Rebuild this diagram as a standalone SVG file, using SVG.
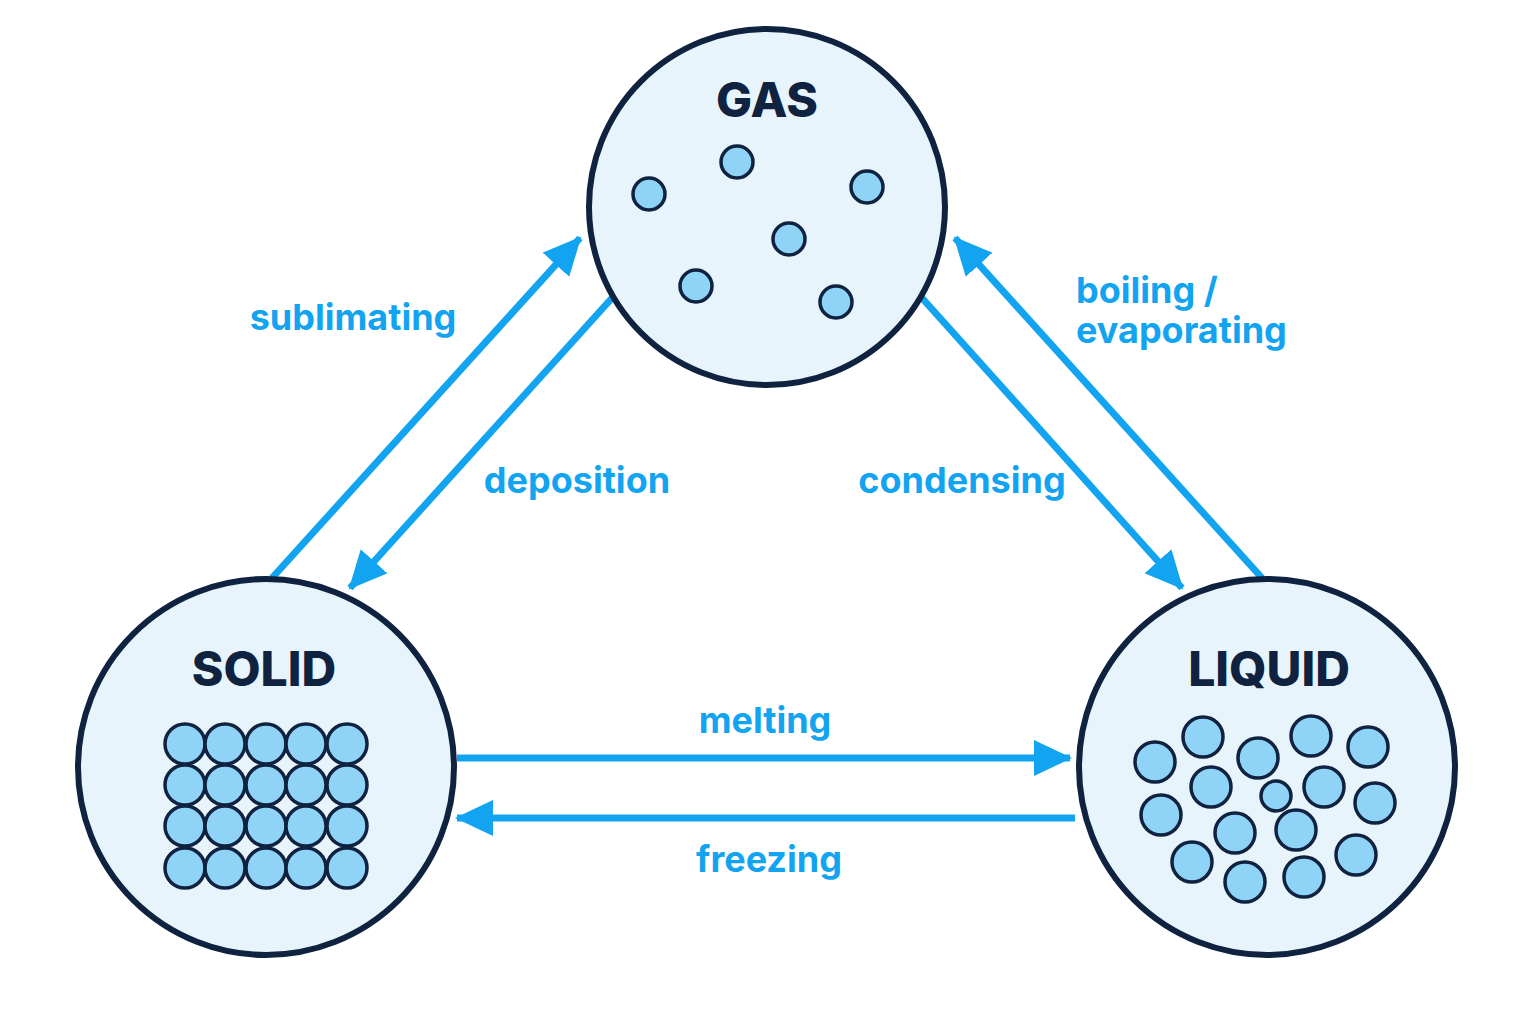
<svg xmlns="http://www.w3.org/2000/svg" width="1536" height="1024" viewBox="0 0 1536 1024">
<style>
.state{fill:#e8f4fc;stroke:#0f2340;stroke-width:6}
.p{fill:#8fd3f7;stroke:#0f2340;stroke-width:3.5}
.t{font-family:Inter,"Liberation Sans",sans-serif;font-weight:800;fill:#0f2340;text-anchor:middle}
.lbl{font-family:Inter,"Liberation Sans",sans-serif;font-weight:700;font-size:36px;fill:#12a4f0}
.c{stroke:#12a4f0;stroke-width:7;fill:none;marker-end:url(#ah)}
</style>
<defs>
<marker id="ah" markerUnits="userSpaceOnUse" markerWidth="40" markerHeight="40" refX="36" refY="18" orient="auto">
<path d="M0,0 L38,18 L0,36 Z" fill="#12a4f0"/>
</marker>
</defs>
<rect width="1536" height="1024" fill="#ffffff"/>
<g id="connectors">
<line class="c" x1="272" y1="578" x2="580" y2="238"/>
<line class="c" x1="612" y1="298" x2="350" y2="588"/>
<line class="c" x1="922" y1="298" x2="1182" y2="588"/>
<line class="c" x1="1262" y1="578" x2="955" y2="238"/>
<line class="c" x1="457" y1="758" x2="1070" y2="758"/>
<line class="c" x1="1075" y1="818" x2="457" y2="818"/>
<text class="lbl" x="353" y="330" text-anchor="middle">sublimating</text>
<text class="lbl" x="577" y="493" text-anchor="middle">deposition</text>
<text class="lbl" x="962" y="493" text-anchor="middle">condensing</text>
<text class="lbl" x="1076" y="303">boiling /</text>
<text class="lbl" x="1076" y="343">evaporating</text>
<text class="lbl" x="765" y="733" text-anchor="middle">melting</text>
<text class="lbl" x="769" y="872" text-anchor="middle">freezing</text>
</g>
<g id="gas">
<circle class="state" cx="767" cy="207" r="178"/>
<text class="t" x="767" y="117" font-size="48">GAS</text>
<circle class="p" cx="649" cy="194" r="16"/><circle class="p" cx="737" cy="162" r="16"/>
<circle class="p" cx="867" cy="187" r="16"/><circle class="p" cx="789" cy="239" r="16"/>
<circle class="p" cx="696" cy="286" r="16"/><circle class="p" cx="836" cy="302" r="16"/>
</g>
<g id="solid">
<circle class="state" cx="266" cy="767" r="188"/>
<text class="t" x="264" y="686" font-size="48">SOLID</text>
<g>
<circle class="p" cx="185" cy="744" r="20"/><circle class="p" cx="225" cy="744" r="20"/><circle class="p" cx="266" cy="744" r="20"/><circle class="p" cx="306" cy="744" r="20"/><circle class="p" cx="347" cy="744" r="20"/>
<circle class="p" cx="185" cy="785" r="20"/><circle class="p" cx="225" cy="785" r="20"/><circle class="p" cx="266" cy="785" r="20"/><circle class="p" cx="306" cy="785" r="20"/><circle class="p" cx="347" cy="785" r="20"/>
<circle class="p" cx="185" cy="826" r="20"/><circle class="p" cx="225" cy="826" r="20"/><circle class="p" cx="266" cy="826" r="20"/><circle class="p" cx="306" cy="826" r="20"/><circle class="p" cx="347" cy="826" r="20"/>
<circle class="p" cx="185" cy="868" r="20"/><circle class="p" cx="225" cy="868" r="20"/><circle class="p" cx="266" cy="868" r="20"/><circle class="p" cx="306" cy="868" r="20"/><circle class="p" cx="347" cy="868" r="20"/>
</g>
</g>
<g id="liquid">
<circle class="state" cx="1267" cy="767" r="188"/>
<text class="t" x="1269" y="686" font-size="48">LIQUID</text>
<circle class="p" cx="1155" cy="762" r="20"/><circle class="p" cx="1203" cy="737" r="20"/>
<circle class="p" cx="1258" cy="758" r="20"/><circle class="p" cx="1311" cy="736" r="20"/>
<circle class="p" cx="1368" cy="747" r="20"/><circle class="p" cx="1211" cy="787" r="20"/>
<circle class="p" cx="1324" cy="787" r="20"/><circle class="p" cx="1276" cy="796" r="15"/>
<circle class="p" cx="1161" cy="815" r="20"/><circle class="p" cx="1375" cy="803" r="20"/>
<circle class="p" cx="1235" cy="833" r="20"/><circle class="p" cx="1296" cy="830" r="20"/>
<circle class="p" cx="1192" cy="862" r="20"/><circle class="p" cx="1245" cy="882" r="20"/>
<circle class="p" cx="1304" cy="877" r="20"/><circle class="p" cx="1356" cy="855" r="20"/>
</g>
</svg>
